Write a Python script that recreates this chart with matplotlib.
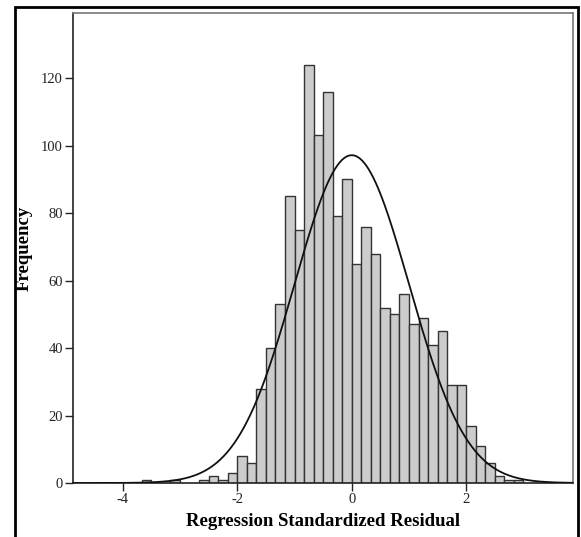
import numpy as np
import matplotlib
matplotlib.use("Agg")
import matplotlib.pyplot as plt
from matplotlib.patches import Rectangle

# histogram data: bin index k means bin [k/6, (k+1)/6)
bin_width = 1.0 / 6.0
bin_index = [-22, -19, -16, -15, -14, -13, -12, -11, -10, -9, -8, -7, -6, -5, -4, -3,
             -2, -1, 0, 1, 2, 3, 4, 5, 6, 7, 8, 9, 10, 11, 12, 13, 14, 15, 16, 17]
counts = [1, 1, 1, 2, 1, 3, 8, 6, 28, 40, 53, 85, 75, 124, 103, 116,
          79, 90, 65, 76, 68, 52, 50, 56, 47, 49, 41, 45, 29, 29, 17, 11, 6, 2, 1, 1]

x_ticks = [-4, -2, 0, 2]
y_ticks = [0, 20, 40, 60, 80, 100, 120]
resid_mean = 0.0
resid_sd = 1.0

plt.rcParams['font.family'] = ['Liberation Serif', 'DejaVu Serif']
plt.rcParams['axes.unicode_minus'] = False

fig = plt.figure(figsize=(5.81, 5.37), dpi=100)
W, H = 581, 537
ax = fig.add_axes([72.7 / W, 1 - 483 / H, (572.7 - 72.7) / W, (483 - 13.3) / H])

lefts = np.array(bin_index) * bin_width
ax.bar(lefts, counts, width=bin_width, align='edge', color='#cccccc',
       edgecolor='#333333', linewidth=1.0, zorder=2)

# fitted normal curve
n_total = sum(counts)
xs = np.linspace(-4.875, 3.86, 600)
ys = n_total * bin_width * np.exp(-0.5 * ((xs - resid_mean) / resid_sd) ** 2) / (resid_sd * np.sqrt(2 * np.pi))
ax.plot(xs, ys, color='#111111', linewidth=1.3, zorder=3)

ax.set_xlim(-4.875, 3.86)
ax.set_ylim(0, 139.2)
ax.set_xticks(x_ticks)
ax.set_yticks(y_ticks)
ax.tick_params(axis='both', direction='out', length=6, width=1, colors='#222222',
               labelsize=10.5, pad=1)
for sp in ['left', 'bottom']:
    ax.spines[sp].set_color('#222222')
    ax.spines[sp].set_linewidth(1.2)
for sp in ['top', 'right']:
    ax.spines[sp].set_color('#777777')
    ax.spines[sp].set_linewidth(1.2)

ax.set_ylabel('Frequency', fontsize=13.5, fontweight='bold', labelpad=6)
ax.set_xlabel('Regression Standardized Residual', fontsize=13.5, fontweight='bold', labelpad=5)

# outer frame, cut at the bottom of the image
fig.patches.append(Rectangle((15 / W, -0.05), (577.5 - 15) / W, 1.05 - 7 / H,
                             transform=fig.transFigure, fill=False,
                             edgecolor='black', linewidth=2.0))

fig.savefig('out.png', dpi=100)
